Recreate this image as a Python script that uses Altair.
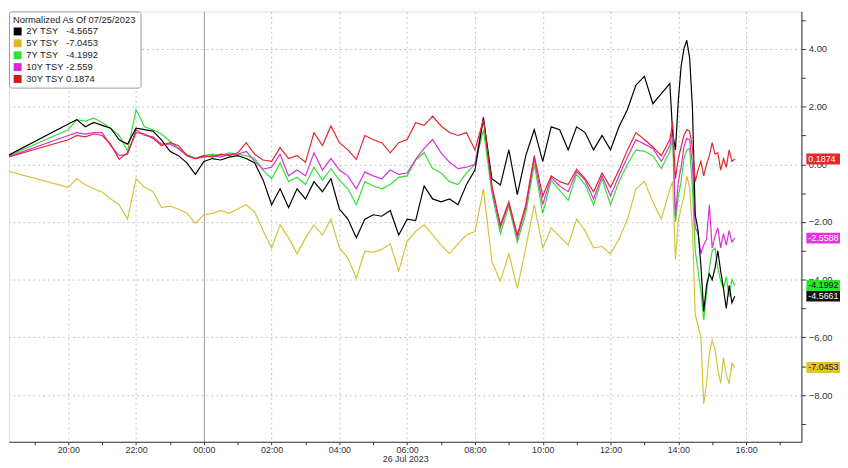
import altair as alt
import pandas as pd

# ---------------- data ----------------
series_names = ["2Y TSY", "5Y TSY", "7Y TSY", "10Y TSY", "30Y TSY"]
legend_values = ["-4.5657", "-7.0453", "-4.1992", "-2.559", "0.1874"]
legend_pads = [3, 3, 3, 1, 1]
line_colors = ["#000000", "#d6c23c", "#33e033", "#d630d6", "#e0262b"]
legend_colors = ["#000000", "#d9b92a", "#2ee52e", "#dd22dd", "#d01818"]

box_labels = ["-4.5661", "-7.0453", "-4.1992", "-2.5588", "0.1874"]
box_values = [-4.5661, -7.0453, -4.1992, -2.5588, 0.1874]
box_fill = ["#111111", "#e3c22a", "#2ee52e", "#e035e0", "#e8262c"]
box_text = ["#ffffff", "#222222", "#111111", "#ffffff", "#ffffff"]

start_values = [0.17, -0.17, 0.17, 0.17, 0.17]  # 18:00 anchor

# 15-minute values 20:00 (Jul 25) .. 13:45 (Jul 26), then 5-minute values 13:50 .. 15:40
y2 = [1.40, 1.55, 1.30, 1.45, 1.35, 1.25, 0.85, 0.70, 1.25, 1.20, 1.15, 0.85,
      0.45, 0.30, 0.05, -0.35, 0.10, 0.20, 0.15, 0.25, 0.30, 0.20, 0.05, -0.55,
      -1.40, -0.85, -1.50, -0.85, -1.20, -0.60, -0.95, -0.50, -1.55, -1.90, -2.55, -1.90,
      -1.75, -1.80, -1.60, -2.45, -1.90, -1.95, -0.75, -1.20, -1.30, -1.20, -1.40, -0.70,
      -0.20, 1.60, -0.50, -0.72, 0.50, -1.05, 0.30, 1.20, 0.10, 1.30, 1.20, 0.50,
      1.30, 1.10, 0.50, 1.00, 0.50, 1.30, 1.90, 2.75, 3.05, 2.10, 2.45, 2.80,
      1.10, 0.50, 2.20, 3.40, 4.00, 4.30, 3.70, 2.00, -1.75, -2.30, -3.50, -5.10,
      -4.20, -3.80, -4.00, -3.60, -3.00, -3.70, -4.30, -5.00, -4.20, -4.80, -4.57]
y5 = [-0.80, -0.50, -0.70, -0.85, -0.96, -1.20, -1.40, -1.90, -0.50, -0.80, -0.95, -1.50,
      -1.45, -1.55, -1.70, -2.05, -1.75, -1.70, -1.60, -1.70, -1.55, -1.40, -1.65, -2.30,
      -2.90, -2.10, -2.55, -3.10, -2.55, -2.10, -2.45, -1.90, -2.90, -3.25, -3.95, -3.00,
      -3.05, -2.95, -2.75, -3.70, -2.67, -2.33, -2.10, -2.45, -2.80, -3.10, -2.75, -2.45,
      -2.33, -0.85, -3.36, -4.05, -3.10, -4.30, -2.90, -1.40, -2.90, -2.20, -2.50, -2.80,
      -1.90, -2.30, -2.90, -2.85, -3.10, -2.60, -1.90, -0.86, -0.60, -1.30, -1.90, -0.86,
      -0.60, -3.30, -2.00, -1.50, -1.10, -0.40, -0.80, -2.20, -5.20, -5.60, -6.00, -8.30,
      -7.60, -6.55, -6.10, -6.40, -7.10, -7.60, -6.70, -7.30, -7.60, -6.90, -7.05]
y7 = [1.20, 1.55, 1.50, 1.60, 1.45, 1.25, 1.00, 0.45, 1.90, 1.30, 1.20, 1.05,
      0.80, 0.55, 0.35, 0.20, 0.30, 0.35, 0.30, 0.40, 0.35, 0.30, 0.20, -0.20,
      -0.50, 0.05, -0.60, -0.45, -0.70, -0.10, -0.55, -0.15, -0.55, -0.85, -1.40, -0.60,
      -0.75, -0.85, -0.70, -0.45, -0.40, 0.15, 0.40, -0.15, -0.30, -0.60, -0.70, -0.30,
      0.00, 1.20, -1.00, -2.40, -1.45, -2.70, -1.70, 0.00, -1.70, -0.55, -0.90, -1.25,
      -0.35, -0.70, -1.40, -0.50, -1.40, -0.60, 0.00, 0.50, 0.45, 0.30, -0.15, 0.45,
      0.90, -2.00, -1.10, -0.60, 0.20, 0.50, 0.55, -0.80, -3.00, -3.70, -4.40, -5.40,
      -4.50, -3.60, -3.00, -2.90, -3.60, -4.05, -4.30, -3.90, -4.60, -4.00, -4.20]
y10 = [1.00, 1.10, 1.05, 1.10, 1.10, 0.65, 0.30, 0.35, 1.20, 1.00, 0.95, 0.70,
       0.70, 0.55, 0.30, 0.20, 0.25, 0.30, 0.25, 0.35, 0.35, 0.45, 0.10, -0.17,
       -0.10, 0.35, -0.40, -0.20, -0.40, 0.40, -0.20, 0.20, -0.20, -0.40, -0.85, -0.27,
       -0.40, -0.50, -0.20, -0.35, -0.30, 0.17, 0.55, 0.86, 0.40, 0.07, -0.15, -0.10,
       0.00, 1.65, -0.85, -2.20, -1.35, -2.55, -1.50, 0.20, -1.40, -0.45, -0.75, -0.95,
       -0.25, -0.55, -1.20, -0.40, -1.10, -0.40, 0.25, 0.85, 0.70, 0.55, 0.10, 0.65,
       1.20, -1.80, -0.60, -0.10, 0.60, 0.90, 0.85, 0.00, -2.20, -2.40, -3.10, -2.80,
       -2.60, -1.40, -2.90, -2.50, -2.20, -2.90, -2.40, -2.80, -2.30, -2.70, -2.56]
y30 = [0.85, 1.00, 0.95, 1.05, 1.00, 0.70, 0.17, 0.40, 1.10, 1.05, 0.90, 0.65,
       0.75, 0.65, 0.30, 0.20, 0.30, 0.25, 0.35, 0.30, 0.40, 0.75, 0.35, 0.15,
       0.10, 0.58, 0.20, 0.30, 0.07, 1.10, 0.65, 1.33, 0.75, 0.50, 0.17, 1.00,
       0.85, 0.75, 0.40, 0.75, 0.86, 1.44, 1.35, 1.67, 1.33, 1.10, 1.00, 1.10,
       0.50, 1.55, -0.73, -2.10, -1.30, -2.45, -1.40, 0.30, -1.10, -0.40, -0.60, -0.70,
       -0.17, -0.50, -0.95, -0.30, -0.80, -0.20, 0.50, 1.10, 0.86, 0.60, 0.30, 0.86,
       1.44, -0.50, 0.20, 0.60, 1.00, 1.20, 1.15, 0.60, -0.60, -0.20, 0.10, -0.40,
       0.00, 0.30, 0.75, 0.35, 0.40, -0.20, 0.20, -0.10, 0.50, 0.10, 0.19]
series_values = [y2, y5, y7, y10, y30]

times = ([pd.Timestamp("2023-07-25 18:00")]
         + list(pd.date_range("2023-07-25 20:00", "2023-07-26 13:45", freq="15min"))
         + list(pd.date_range("2023-07-26 13:50", "2023-07-26 15:40", freq="5min")))

display_names = [n + "\u00a0" * p + v for n, p, v in zip(series_names, legend_pads, legend_values)]

rows = []
draw_order = [1, 2, 3, 0, 4]
for i in draw_order:
    vals = [start_values[i]] + series_values[i]
    for t, v in zip(times, vals):
        rows.append({"time": t, "series": display_names[i], "value": v})
df = pd.DataFrame(rows)

boxes = pd.DataFrame({"value": box_values, "lab": box_labels, "fill": box_fill, "tc": box_text})

# ---------------- chart ----------------
W, H = 801, 435
FONT = "Liberation Sans Narrow, Liberation Sans, Arial, sans-serif"


def dt(d, h, m=0):
    return alt.DateTime(year=2023, month=7, date=d, hours=h, minutes=m)


x_domain = [dt(25, 18, 15), dt(26, 17, 38)]
hour_ticks = [dt(25, h) for h in range(19, 24)] + [dt(26, h) for h in range(0, 18)]

x_axis = alt.Axis(
    values=hour_ticks,
    labelExpr="hours(datum.value) % 2 == 0 ? timeFormat(datum.value, '%H:%M') : ''",
    labelOverlap=False,
    labelAngle=0,
    labelFontSize=9,
    labelColor="#333333",
    labelPadding=1,
    tickSize=3,
    tickColor="#333333",
    domainColor="#333333",
    title="26 Jul 2023",
    titleFontSize=9,
    titleFontWeight="normal",
    titleColor="#333333",
    titlePadding=0,
    gridOpacity={"condition": {"test": "hours(datum.value) % 2 == 1", "value": 0}, "value": 1},
    gridDash={"condition": {"test": "hours(datum.value) == 0", "value": []}, "value": [2, 3]},
    gridColor={"condition": {"test": "hours(datum.value) == 0", "value": "#9a9a9a"}, "value": "#c4c4c4"},
)
x_scale = alt.Scale(domain=x_domain)

y_axis = alt.Axis(
    orient="right",
    values=list(range(-9, 6)),
    labelExpr="datum.value % 2 == 0 ? format(datum.value, '.2f') : ''",
    labelFontSize=9.5,
    labelColor="#333333",
    labelPadding=3,
    tickSize=4,
    tickColor="#333333",
    domainColor="#333333",
    title=None,
    gridOpacity={"condition": {"test": "datum.value % 2 != 0", "value": 0}, "value": 1},
    gridDash=[2, 3],
    gridColor="#c4c4c4",
)
y_scale = alt.Scale(domain=[-9.62, 5.30], nice=False, zero=False)

color_legend = alt.Legend(
    orient="none",
    legendX=0,
    legendY=0,
    title="Normalized As Of 07/25/2023",
    titleFontSize=9.5,
    titleFontWeight="normal",
    titleColor="#222222",
    titlePadding=2,
    labelFontSize=9.5,
    labelColor="#222222",
    symbolType="square",
    symbolSize=64,
    symbolStrokeWidth=0,
    symbolOpacity=1,
    fillColor="white",
    strokeColor="#9a9a9a",
    cornerRadius=3,
    padding=4,
    rowPadding=1,
)

lines = alt.Chart(df).mark_line(strokeWidth=1.2, clip=True).encode(
    x=alt.X("time:T", scale=x_scale, axis=x_axis),
    y=alt.Y("value:Q", scale=y_scale, axis=y_axis),
    color=alt.Color("series:N", scale=alt.Scale(domain=display_names, range=line_colors), legend=None),
)

# invisible filled squares that only carry the legend
legend_pts = alt.Chart(df).mark_square(filled=True, opacity=0, clip=True).encode(
    x=alt.X("time:T", scale=x_scale, axis=x_axis),
    y=alt.Y("value:Q", scale=y_scale, axis=y_axis),
    fill=alt.Fill("series:N", scale=alt.Scale(domain=display_names, range=legend_colors), legend=color_legend),
)

rects = alt.Chart(boxes).transform_calculate(
    hi="datum.value + 0.19", lo="datum.value - 0.19"
).mark_rect(clip=False).encode(
    x=alt.value(W + 5),
    x2=alt.value(W + 39),
    y=alt.Y("hi:Q", scale=y_scale, axis=y_axis),
    y2="lo:Q",
    fill=alt.Fill("fill:N", scale=None),
)

texts = alt.Chart(boxes).mark_text(
    align="left", baseline="middle", fontSize=9, font=FONT, clip=False
).encode(
    x=alt.value(W + 7),
    y=alt.Y("value:Q", scale=y_scale, axis=y_axis),
    text="lab:N",
    color=alt.Color("tc:N", scale=None),
)

chart = alt.layer(legend_pts, lines, rects, texts).resolve_scale(
    fill="independent"
).properties(
    width=W, height=H, padding=0, background="white"
).configure_view(stroke=None).configure(font=FONT)

chart.save("out.html", embed_options={"renderer": "svg", "actions": False})
